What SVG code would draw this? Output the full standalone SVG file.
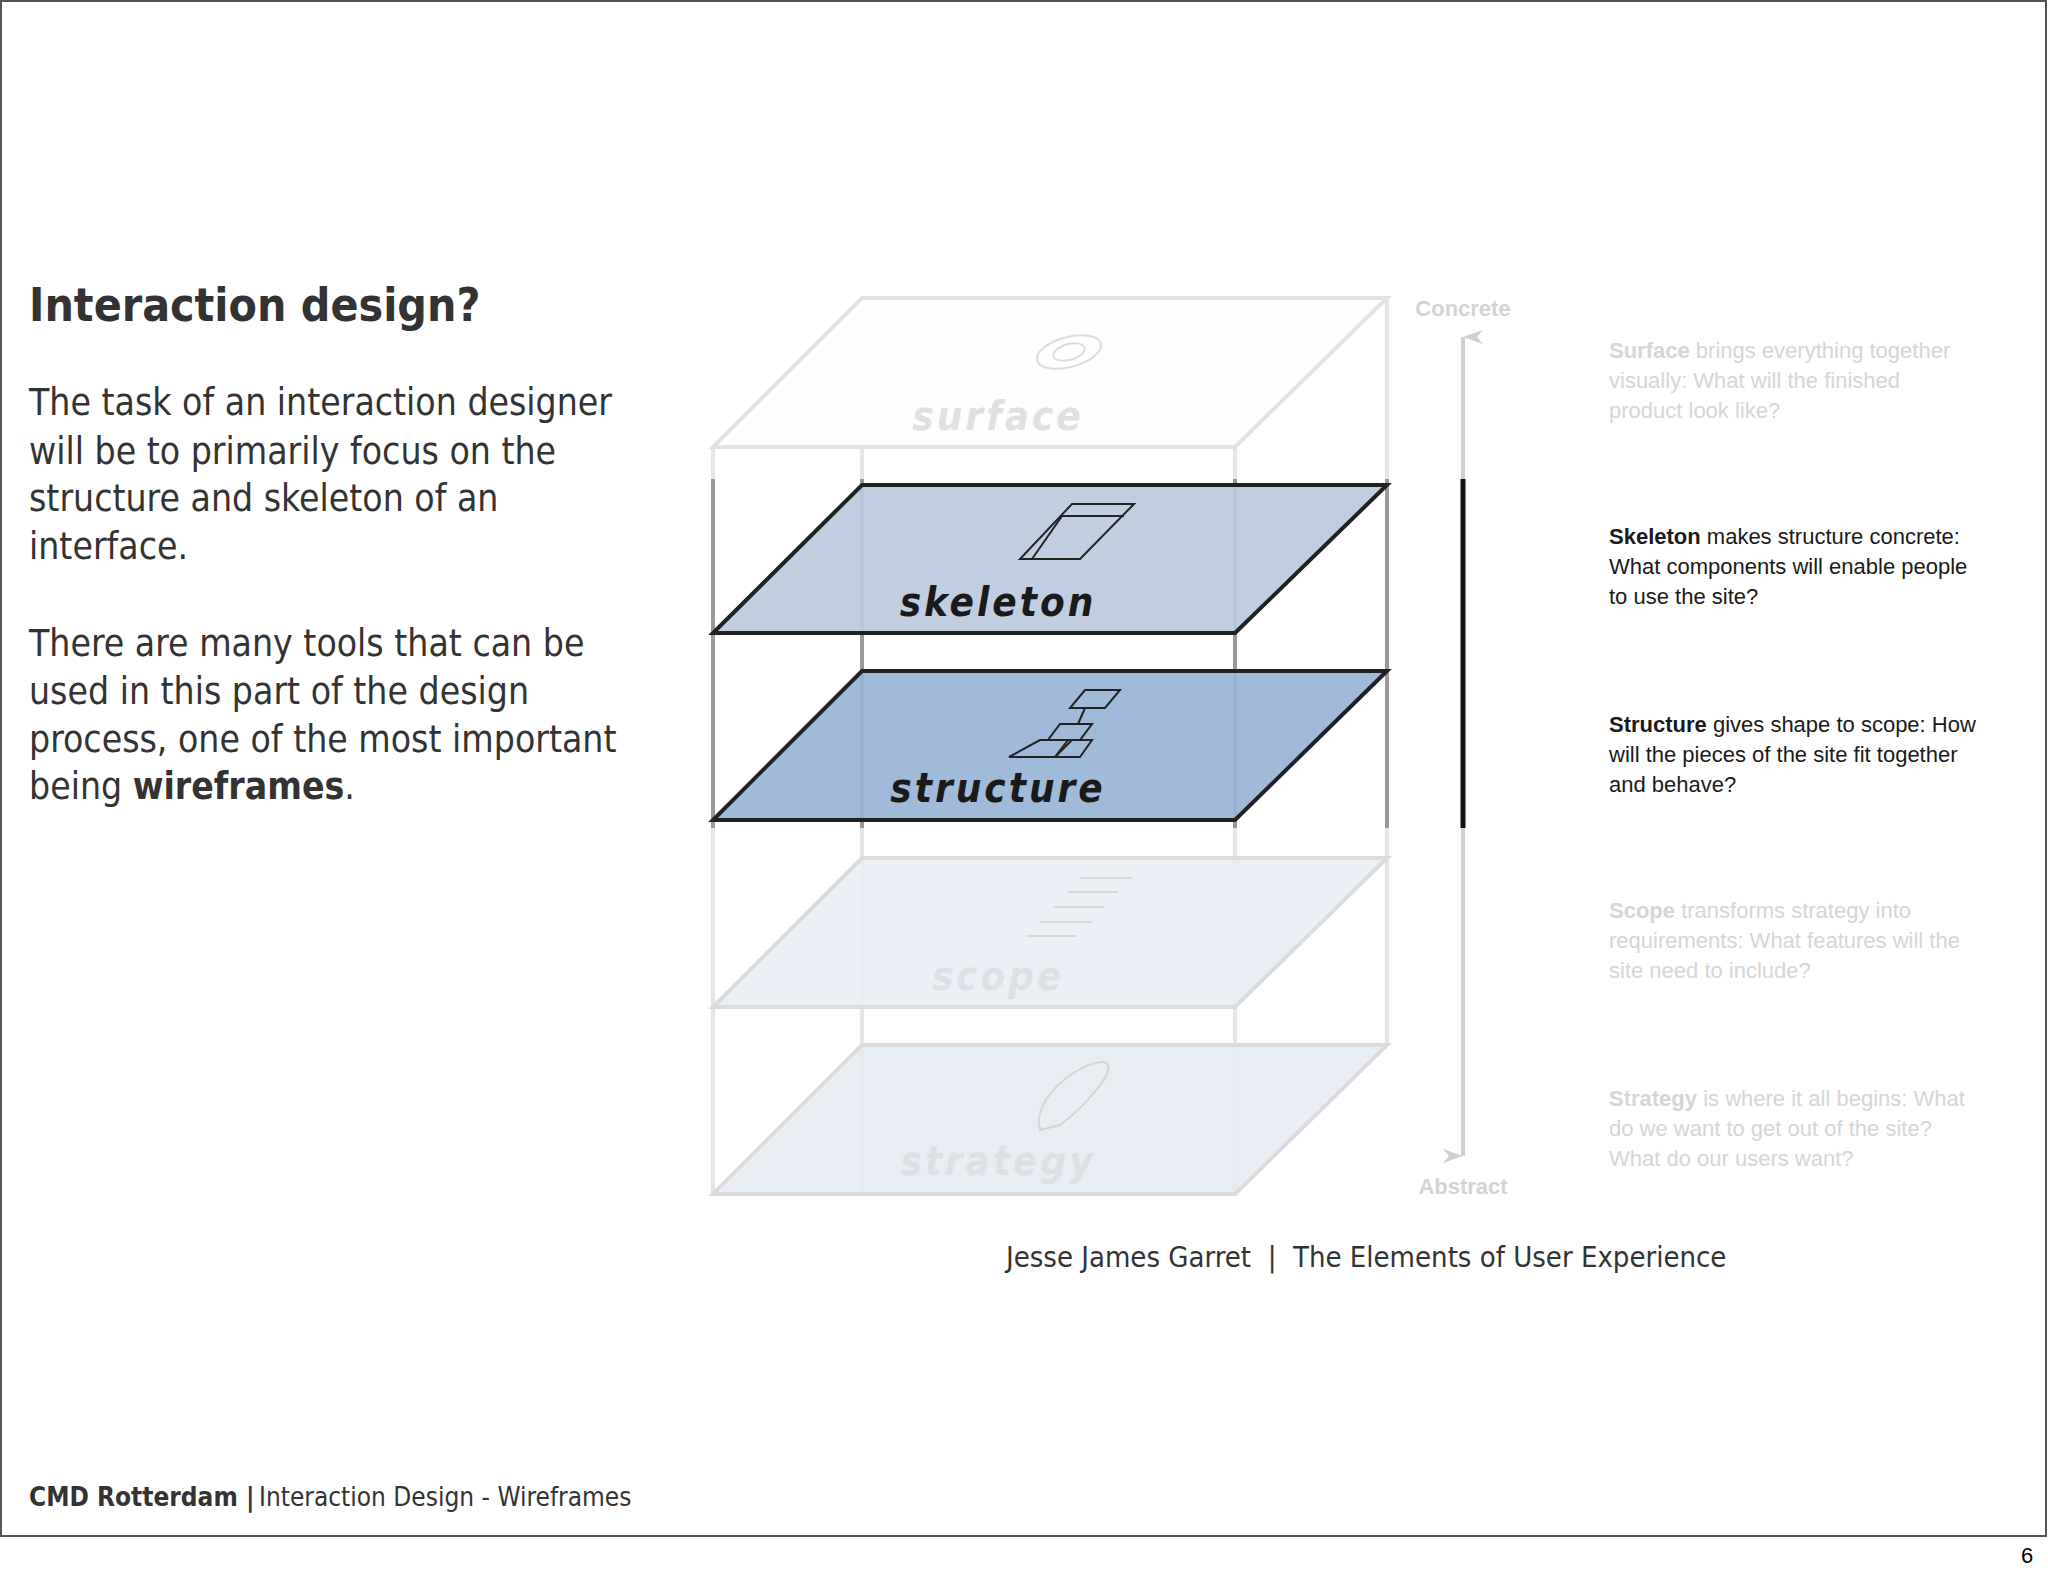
<svg xmlns="http://www.w3.org/2000/svg" width="2048" height="1576" viewBox="0 0 2048 1576">
<style>
.t{font-family:"DejaVu Sans Condensed","DejaVu Sans",sans-serif;font-stretch:condensed}
.body{font-size:37px;fill:#333}
.side{font-family:"Liberation Sans",Arial,sans-serif;font-size:22px}
.lab{font-family:"DejaVu Sans Condensed","DejaVu Sans",sans-serif;font-style:italic;font-weight:bold;font-size:40px;text-anchor:middle;letter-spacing:3px}
</style>
<defs>
<marker id="ah" markerWidth="14" markerHeight="20" refX="7" refY="0" orient="auto-start-reverse" markerUnits="userSpaceOnUse" viewBox="0 0 14 20"><path d="M0,20 L7,0 L14,20 L7,14 Z" fill="#cfcfcf"/></marker>
</defs>
<rect x="1" y="1" width="2045" height="1535" fill="#fff" stroke="#555" stroke-width="2"/>
<g id="text-left">
<text class="t" x="29" y="321" font-size="46" font-weight="bold" fill="#333">Interaction design?</text>
<text class="t body" x="29" y="415">The task of an interaction designer</text>
<text class="t body" x="29" y="464">will be to primarily focus on the</text>
<text class="t body" x="29" y="511">structure and skeleton of an</text>
<text class="t body" x="29" y="559">interface.</text>
<text class="t body" x="29" y="656">There are many tools that can be</text>
<text class="t body" x="29" y="704">used in this part of the design</text>
<text class="t body" x="29" y="752">process, one of the most important</text>
<text class="t body" x="29" y="799">being <tspan font-weight="bold">wireframes</tspan>.</text>
</g>
<g id="back-verticals" stroke="#e6e6e6" stroke-width="4">
<line x1="862" y1="447" x2="862" y2="1194"/><line x1="1387" y1="298" x2="1387" y2="1045"/>
<line x1="713" y1="447" x2="713" y2="1194"/><line x1="1235" y1="447" x2="1235" y2="1194"/>
</g>
<g id="dark-verticals" stroke="#999" stroke-width="4">
<line x1="713" y1="479" x2="713" y2="828"/><line x1="862" y1="479" x2="862" y2="828"/>
<line x1="1235" y1="479" x2="1235" y2="828"/><line x1="1387" y1="479" x2="1387" y2="828"/>
</g>
<g id="strategy">
<polygon points="862,1045 1387,1045 1235,1194 713,1194" fill="#e6ebf3" fill-opacity="0.9" stroke="#dcdcdc" stroke-width="4"/>
<path d="M1040,1130 C1030,1100 1080,1060 1105,1062 C1120,1070 1080,1110 1060,1125 Z" fill="none" stroke="#d6d6d6" stroke-width="2"/>
<text class="lab" x="998" y="1175" fill="#dde1e6">strategy</text>
</g>
<g id="scope">
<polygon points="862,858 1387,858 1235,1007 713,1007" fill="#e8edf5" fill-opacity="0.9" stroke="#dcdcdc" stroke-width="4"/>
<g stroke="#d8d8d8" stroke-width="2"><line x1="1080" y1="878" x2="1132" y2="878"/><line x1="1068" y1="892" x2="1118" y2="892"/><line x1="1054" y1="907" x2="1104" y2="907"/><line x1="1040" y1="922" x2="1092" y2="922"/><line x1="1026" y1="936" x2="1076" y2="936"/></g>
<text class="lab" x="998" y="990" fill="#dde1e6">scope</text>
</g>
<g id="structure">
<polygon points="862,671 1387,671 1235,820 713,820" fill="#98b4d6" fill-opacity="0.92" stroke="#222" stroke-width="4"/>
<g fill="none" stroke="#222" stroke-width="2"><polygon points="1085,690 1120,690 1105,708 1070,708"/><line x1="1085" y1="708" x2="1078" y2="724"/><polygon points="1060,724 1092,724 1080,740 1048,740"/><polygon points="1040,740 1068,740 1055,757 1009,757"/><polygon points="1072,740 1092,740 1080,757 1055,757"/></g>
<text class="lab" x="998" y="802" fill="#1a1a1a">structure</text>
</g>
<g id="skeleton">
<polygon points="862,485 1387,485 1235,633 713,633" fill="#bccadf" fill-opacity="0.92" stroke="#222" stroke-width="4"/>
<g fill="none" stroke="#222" stroke-width="2"><polygon points="1072,504 1134,504 1080,559 1020,559"/><line x1="1062" y1="516" x2="1124" y2="516"/><line x1="1062" y1="516" x2="1032" y2="559"/></g>
<text class="lab" x="998" y="616" fill="#1a1a1a">skeleton</text>
</g>
<g id="surface">
<polygon points="862,298 1387,298 1235,447 713,447" fill="#fcfcfc" fill-opacity="0.8" stroke="#e2e2e2" stroke-width="4"/>
<ellipse cx="1069" cy="352" rx="33" ry="15" transform="rotate(-15 1069 352)" fill="none" stroke="#dcdcdc" stroke-width="2"/>
<ellipse cx="1069" cy="352" rx="16" ry="8" transform="rotate(-15 1069 352)" fill="none" stroke="#dcdcdc" stroke-width="2"/>
<text class="lab" x="998" y="430" fill="#e0e0e0">surface</text>
</g>
<g id="connectors">
<line x1="1463" y1="337" x2="1463" y2="1156" stroke="#cfcfcf" stroke-width="4" marker-start="url(#ah)" marker-end="url(#ah)"/>
<line x1="1463" y1="479" x2="1463" y2="828" stroke="#111" stroke-width="5"/>
</g>
<g id="axis-labels" font-family="Liberation Sans,Arial,sans-serif" font-weight="bold" font-size="22" fill="#d4d4d4" text-anchor="middle">
<text x="1463" y="316">Concrete</text><text x="1463" y="1194">Abstract</text>
</g>
<g id="descriptions" class="side">
<g fill="#d6d6d6"><text x="1609" y="358"><tspan font-weight="bold">Surface</tspan> brings everything together</text><text x="1609" y="388">visually: What will the finished</text><text x="1609" y="418">product look like?</text></g>
<g fill="#1a1a1a"><text x="1609" y="544"><tspan font-weight="bold">Skeleton</tspan> makes structure concrete:</text><text x="1609" y="574">What components will enable people</text><text x="1609" y="604">to use the site?</text></g>
<g fill="#1a1a1a"><text x="1609" y="732"><tspan font-weight="bold">Structure</tspan> gives shape to scope: How</text><text x="1609" y="762">will the pieces of the site fit together</text><text x="1609" y="792">and behave?</text></g>
<g fill="#d6d6d6"><text x="1609" y="918"><tspan font-weight="bold">Scope</tspan> transforms strategy into</text><text x="1609" y="948">requirements: What features will the</text><text x="1609" y="978">site need to include?</text></g>
<g fill="#d6d6d6"><text x="1609" y="1106"><tspan font-weight="bold">Strategy</tspan> is where it all begins: What</text><text x="1609" y="1136">do we want to get out of the site?</text><text x="1609" y="1166">What do our users want?</text></g>
</g>
<text class="t" x="1006" y="1267" font-size="29" fill="#333" xml:space="preserve">Jesse James Garret  |  The Elements of User Experience</text>
<g id="footer" class="t" font-size="26" fill="#333">
<text x="29" y="1506"><tspan font-weight="bold">CMD Rotterdam |</tspan></text>
<text x="259" y="1506">Interaction Design - Wireframes</text>
</g>
<text x="2027" y="1563" font-family="Liberation Sans,Arial,sans-serif" font-size="22" fill="#000" text-anchor="middle">6</text>
</svg>
